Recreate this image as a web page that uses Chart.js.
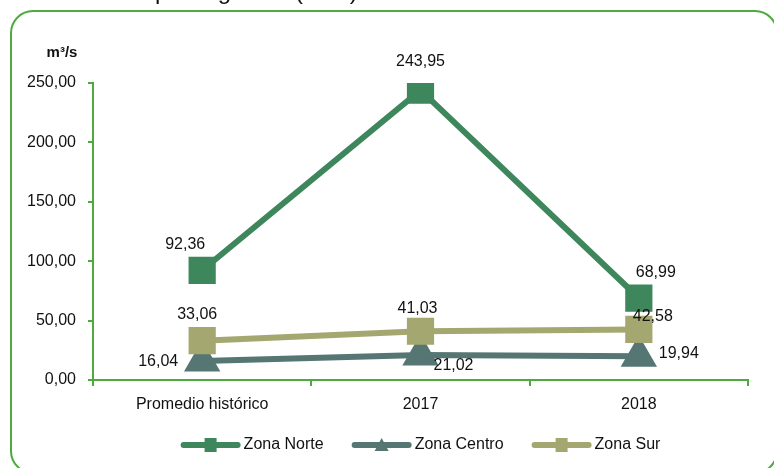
<!DOCTYPE html>
<html>
<head>
<meta charset="utf-8">
<script src="https://cdn.jsdelivr.net/npm/chart.js@4/dist/chart.umd.min.js"></script>
<style>
  body { margin: 0; background: #fff; }
  canvas { display: block; }
</style>
</head>
<body>
<canvas id="caudalChart" width="774" height="468"></canvas>
<script>
// data
const categories = ['Promedio histórico', '2017', '2018'];
const zonaNorte = [92.36, 243.95, 68.99];
const zonaCentro = [16.04, 21.02, 19.94];
const zonaSur = [33.06, 41.03, 42.58];
const yMax = 250;
const yStep = 50;
const unitLabel = 'm³/s';
const titleText = 'por regiones (m³/s)';

const green = '#4DAA3C';
const fontFamily = '"Liberation Sans", Arial, sans-serif';

Chart.defaults.font.family = fontFamily;
Chart.defaults.font.size = 16;
Chart.defaults.color = '#111';

function fmt(v) {
    return v.toFixed(2).replace('.', ',');
}

// frame around the chart, and the cut off title above it
const framePlugin = {
    id: 'frame',
    beforeDraw(chart) {
        const ctx = chart.ctx;
        ctx.save();
        ctx.fillStyle = '#fff';
        ctx.fillRect(0, 0, chart.width, chart.height);
        ctx.strokeStyle = green;
        ctx.lineWidth = 2;
        ctx.beginPath();
        ctx.roundRect(11, 11, 766, 462, 22);
        ctx.stroke();
        ctx.fillStyle = '#111';
        ctx.font = '24px ' + fontFamily;
        ctx.textBaseline = 'alphabetic';
        ctx.fillText(titleText, 155, -1);
        ctx.restore();
    }
};

// value labels, unit label and the legend
const extrasPlugin = {
    id: 'extras',
    afterDatasetsDraw(chart) {
        const ctx = chart.ctx;
        const area = chart.chartArea;
        ctx.save();
        ctx.fillStyle = '#111';
        ctx.font = '16px ' + fontFamily;
        ctx.textAlign = 'center';
        ctx.textBaseline = 'middle';
        chart.data.datasets.forEach((ds, i) => {
            const meta = chart.getDatasetMeta(i);
            meta.data.forEach((pt, j) => {
                const off = ds.labelOffsets[j];
                ctx.fillText(fmt(ds.data[j]), pt.x + off[0], pt.y + off[1]);
            });
        });

        ctx.font = 'bold 15px ' + fontFamily;
        ctx.fillText(unitLabel, area.left - 31, area.top - 30);

        // legend: line with marker, then the name
        ctx.font = '16px ' + fontFamily;
        const lineLen = 60;
        const gap = 3;
        const spacing = 28;
        const widths = chart.data.datasets.map(ds => lineLen + gap + ctx.measureText(ds.label).width);
        const total = widths.reduce((a, b) => a + b, 0) + spacing * (widths.length - 1);
        let x = (area.left + area.right) / 2 - total / 2;
        const y = 445;
        chart.data.datasets.forEach((ds, i) => {
            ctx.strokeStyle = ds.borderColor;
            ctx.lineWidth = 6;
            ctx.lineCap = 'round';
            ctx.beginPath();
            ctx.moveTo(x + 3, y);
            ctx.lineTo(x + lineLen - 3, y);
            ctx.stroke();
            ctx.fillStyle = ds.borderColor;
            const cx = x + lineLen / 2;
            if (ds.pointStyle === 'triangle') {
                ctx.beginPath();
                ctx.moveTo(cx, y - 7);
                ctx.lineTo(cx + 7, y + 6);
                ctx.lineTo(cx - 7, y + 6);
                ctx.closePath();
                ctx.fill();
            } else {
                ctx.fillRect(cx - 6, y - 7, 12, 14);
            }
            ctx.fillStyle = '#111';
            ctx.textAlign = 'left';
            ctx.fillText(ds.label, x + lineLen + gap, y);
            x += widths[i] + spacing;
        });
        ctx.restore();
    }
};

new Chart(document.getElementById('caudalChart'), {
    type: 'line',
    data: {
        labels: categories,
        datasets: [
            {
                label: 'Zona Norte',
                data: zonaNorte,
                borderColor: '#3E875C',
                backgroundColor: '#3E875C',
                borderWidth: 6,
                pointStyle: 'rect',
                pointRadius: 15,
                labelOffsets: [[-17, -26], [0, -29], [17, -25]],
                order: 1
            },
            {
                label: 'Zona Centro',
                data: zonaCentro,
                borderColor: '#557673',
                backgroundColor: '#557673',
                borderWidth: 6,
                pointStyle: 'triangle',
                pointRadius: 15,
                labelOffsets: [[-44, 1], [33, 11], [40, -3]],
                order: 3
            },
            {
                label: 'Zona Sur',
                data: zonaSur,
                borderColor: '#A4A870',
                backgroundColor: '#A4A870',
                borderWidth: 6,
                pointStyle: 'rect',
                pointRadius: 15,
                labelOffsets: [[-5, -26], [-3, -23], [14, -13]],
                order: 2
            }
        ]
    },
    options: {
        responsive: false,
        animation: false,
        layout: { padding: { top: 83, right: 26, left: 0, bottom: 0 } },
        elements: { line: { tension: 0 }, point: { hoverRadius: 15 } },
        plugins: {
            legend: { display: false },
            tooltip: { enabled: false }
        },
        scales: {
            x: {
                offset: true,
                afterFit(scale) { scale.height = 88; },
                grid: {
                    display: true,
                    offset: true,
                    drawOnChartArea: false,
                    drawTicks: true,
                    tickLength: 6,
                    color: green,
                    lineWidth: 2
                },
                border: { display: true, color: green, width: 2 },
                ticks: { padding: 9, color: '#111', font: { size: 16 } }
            },
            y: {
                min: 0,
                max: yMax,
                afterFit(scale) { scale.width = 93; },
                grid: {
                    display: true,
                    drawOnChartArea: false,
                    drawTicks: true,
                    tickLength: 5,
                    color: green,
                    lineWidth: 2
                },
                border: { display: true, color: green, width: 2 },
                ticks: {
                    stepSize: yStep,
                    padding: 12,
                    color: '#111',
                    font: { size: 16 },
                    callback: v => fmt(v)
                }
            }
        }
    },
    plugins: [framePlugin, extrasPlugin]
});
</script>
</body>
</html>
